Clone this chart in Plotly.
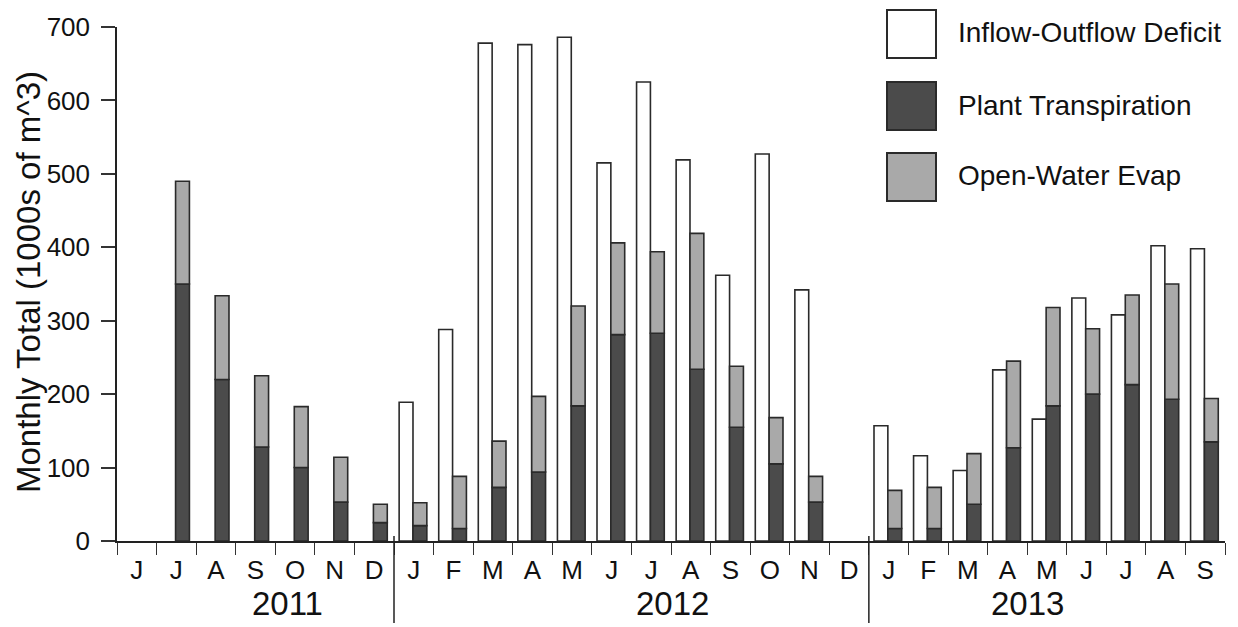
import plotly.graph_objects as go

# ---- data ----
month_labels = ["J", "J", "A", "S", "O", "N", "D",
                "J", "F", "M", "A", "M", "J", "J", "A", "S", "O", "N", "D",
                "J", "F", "M", "A", "M", "J", "J", "A", "S"]
years = ["2011", "2012", "2013"]
year_label_pos = [3.8, 13.55, 22.5]
year_dividers = [6.5, 18.5]
y_title = "Monthly Total (1000s of m^3)"

inflow_outflow_deficit = [None, None, None, None, None, None, None,
                          189, 288, 678, 676, 686, 515, 625, 519, 362, 527, 342, None,
                          157, 116, 96, 233, 166, 331, 308, 402, 398]
plant_transpiration = [None, 350, 220, 128, 100, 53, 25,
                       21, 17, 73, 94, 184, 281, 283, 234, 155, 105, 53, None,
                       17, 17, 50, 127, 184, 200, 213, 193, 135]
open_water_evap = [None, 140, 114, 97, 83, 61, 25,
                   31, 71, 63, 103, 136, 125, 111, 185, 83, 63, 35, None,
                   52, 56, 69, 118, 134, 89, 122, 157, 59]

legend_names = ["Inflow-Outflow Deficit", "Plant Transpiration", "Open-Water Evap"]
colors = ["#ffffff", "#4b4b4b", "#a9a9a9"]
outline = "#2a2a2a"

x = list(range(len(month_labels)))
FONT = "Liberation Sans, Arial, Helvetica, sans-serif"

L, R, T, B = 117, 13, 27, 86
PW = 1238 - L - R
PH = 627 - T - B

fig = go.Figure()
fig.add_trace(go.Bar(x=x, y=inflow_outflow_deficit, name=legend_names[0],
                     width=0.35, offset=-0.37,
                     marker=dict(color=colors[0], line=dict(color=outline, width=1.6))))
fig.add_trace(go.Bar(x=x, y=plant_transpiration, name=legend_names[1],
                     width=0.35, offset=-0.02,
                     marker=dict(color=colors[1], line=dict(color=outline, width=1.6))))
fig.add_trace(go.Bar(x=x, y=open_water_evap, base=plant_transpiration, name=legend_names[2],
                     width=0.35, offset=-0.02,
                     marker=dict(color=colors[2], line=dict(color=outline, width=1.6))))

shapes = []
annotations = []
for xv in year_dividers:
    shapes.append(dict(type="line", xref="x", yref="paper", x0=xv, x1=xv,
                       y0=(541 - 623) / PH, y1=(541 - 536) / PH,
                       line=dict(color="#222", width=1.5)))
for yr, xp in zip(years, year_label_pos):
    annotations.append(dict(x=xp, y=(541 - 603) / PH, xref="x", yref="paper", text=yr, showarrow=False,
                            font=dict(size=33, color="#111", family=FONT),
                            xanchor="center", yanchor="middle"))

# y-axis title
annotations.append(dict(xref="paper", yref="paper", x=(28 - L) / PW, y=(541 - 282) / PH,
                        text=y_title, textangle=-90, showarrow=False,
                        xanchor="center", yanchor="middle",
                        font=dict(size=33, color="#111", family=FONT)))

# custom legend with large swatches
box_tops = [10, 82, 153]
for name, col, top in zip(legend_names, colors, box_tops):
    shapes.append(dict(type="rect", xref="paper", yref="paper",
                       x0=(887 - L) / PW, x1=(936 - L) / PW,
                       y0=(541 - (top + 48)) / PH, y1=(541 - top) / PH,
                       fillcolor=col, line=dict(color=outline, width=2)))
    annotations.append(dict(xref="paper", yref="paper",
                            x=(956 - L) / PW, y=(541 - (top + 23)) / PH,
                            text=name, showarrow=False, xanchor="left", yanchor="middle",
                            font=dict(size=28, color="#111", family=FONT)))

fig.update_layout(
    width=1238, height=627,
    margin=dict(l=L, r=R, t=T, b=B),
    paper_bgcolor="white", plot_bgcolor="white",
    barmode="overlay", showlegend=False,
    shapes=shapes, annotations=annotations,
    font=dict(family=FONT, color="#111"),
)
fig.update_xaxes(
    automargin=False,
    range=[-0.5, len(month_labels) - 0.5],
    tickmode="array", tickvals=x, ticktext=month_labels,
    ticks="", tickfont=dict(size=26, family=FONT, color="#111"),
    ticklabelstandoff=5,
    showline=True, linecolor="#222", linewidth=1.5,
    showgrid=False, zeroline=False,
    minor=dict(tickmode="array", tickvals=[v - 0.5 for v in x] + [len(x) - 0.5],
               ticks="outside", ticklen=12, tickwidth=1.2, tickcolor="#333", showgrid=False),
)
fig.update_yaxes(
    automargin=False,
    range=[0, 700], tickvals=[0, 100, 200, 300, 400, 500, 600, 700],
    ticks="outside", ticklen=14, tickwidth=1.5, tickcolor="#333",
    tickfont=dict(size=26, family=FONT, color="#111"),
    ticklabelstandoff=6,
    showline=True, linecolor="#222", linewidth=1.5,
    showgrid=False, zeroline=False,
)

fig.write_html("out.html", config={"displayModeBar": False},
               post_script="document.body.style.margin='0';document.body.style.overflow='hidden';")
